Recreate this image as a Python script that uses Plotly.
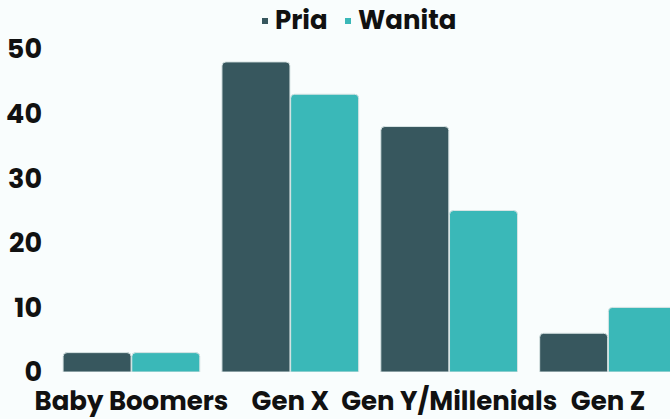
import plotly.graph_objects as go

categories = ["Baby Boomers", "Gen X", "Gen Y/Millenials", "Gen Z"]
pria = [3, 48, 38, 6]
wanita = [3, 43, 25, 10]
y_ticks = [0, 10, 20, 30, 40, 50]
series_names = ["Pria", "Wanita"]

c_pria = "#37575e"
c_wanita = "#3ab8b8"
bg = "#f9fdfd"
font_fam = "Poppins, Inter, sans-serif"

fig = go.Figure()
fig.add_bar(x=categories, y=pria, name=series_names[0],
            marker=dict(color=c_pria, line=dict(color="#d8e4e4", width=1)), showlegend=False)
fig.add_bar(x=categories, y=wanita, name=series_names[1],
            marker=dict(color=c_wanita, line=dict(color="#d8e4e4", width=1)), showlegend=False)

# Custom legend (small squares close to the text, as in the reference)
legend_sq_x = [0.3398, 0.4741]
legend_tx_x = [0.3576, 0.4919]
for nm, col, sx, tx in zip(series_names, [c_pria, c_wanita], legend_sq_x, legend_tx_x):
    fig.add_shape(type="rect", xref="paper", yref="paper",
                  xsizemode="pixel", ysizemode="pixel",
                  xanchor=sx, yanchor=1.0774, x0=0, x1=6, y0=0, y1=6,
                  fillcolor=col, line=dict(width=0))
    fig.add_annotation(text=nm, xref="paper", yref="paper", x=tx, y=1.0898,
                       xanchor="left", yanchor="middle", showarrow=False,
                       font=dict(family=font_fam, size=26, weight=700, color="#111111"))

fig.update_layout(
    width=670, height=419,
    margin=dict(l=52, r=0, t=49, b=47, autoexpand=False),
    paper_bgcolor=bg, plot_bgcolor=bg,
    barmode="group", bargap=0.135, bargroupgap=0.01,
    barcornerradius=4,
    showlegend=False,
    font=dict(family=font_fam, size=26, color="#111111", weight=700),
    xaxis=dict(range=[-0.5, 3.39], showgrid=False, zeroline=False, showline=False,
               ticks="", automargin=False, ticklabelstandoff=11,
               tickfont=dict(size=26, weight=700)),
    yaxis=dict(range=[0, 50], tickvals=y_ticks, showgrid=False, zeroline=False,
               showline=False, ticks="", automargin=False, ticklabelstandoff=9,
               tickfont=dict(size=27, weight=700)),
)
fig.write_html("out.html", config={"displayModeBar": False},
               post_script="document.body.style.margin='0';document.body.style.background='%s';" % bg)
